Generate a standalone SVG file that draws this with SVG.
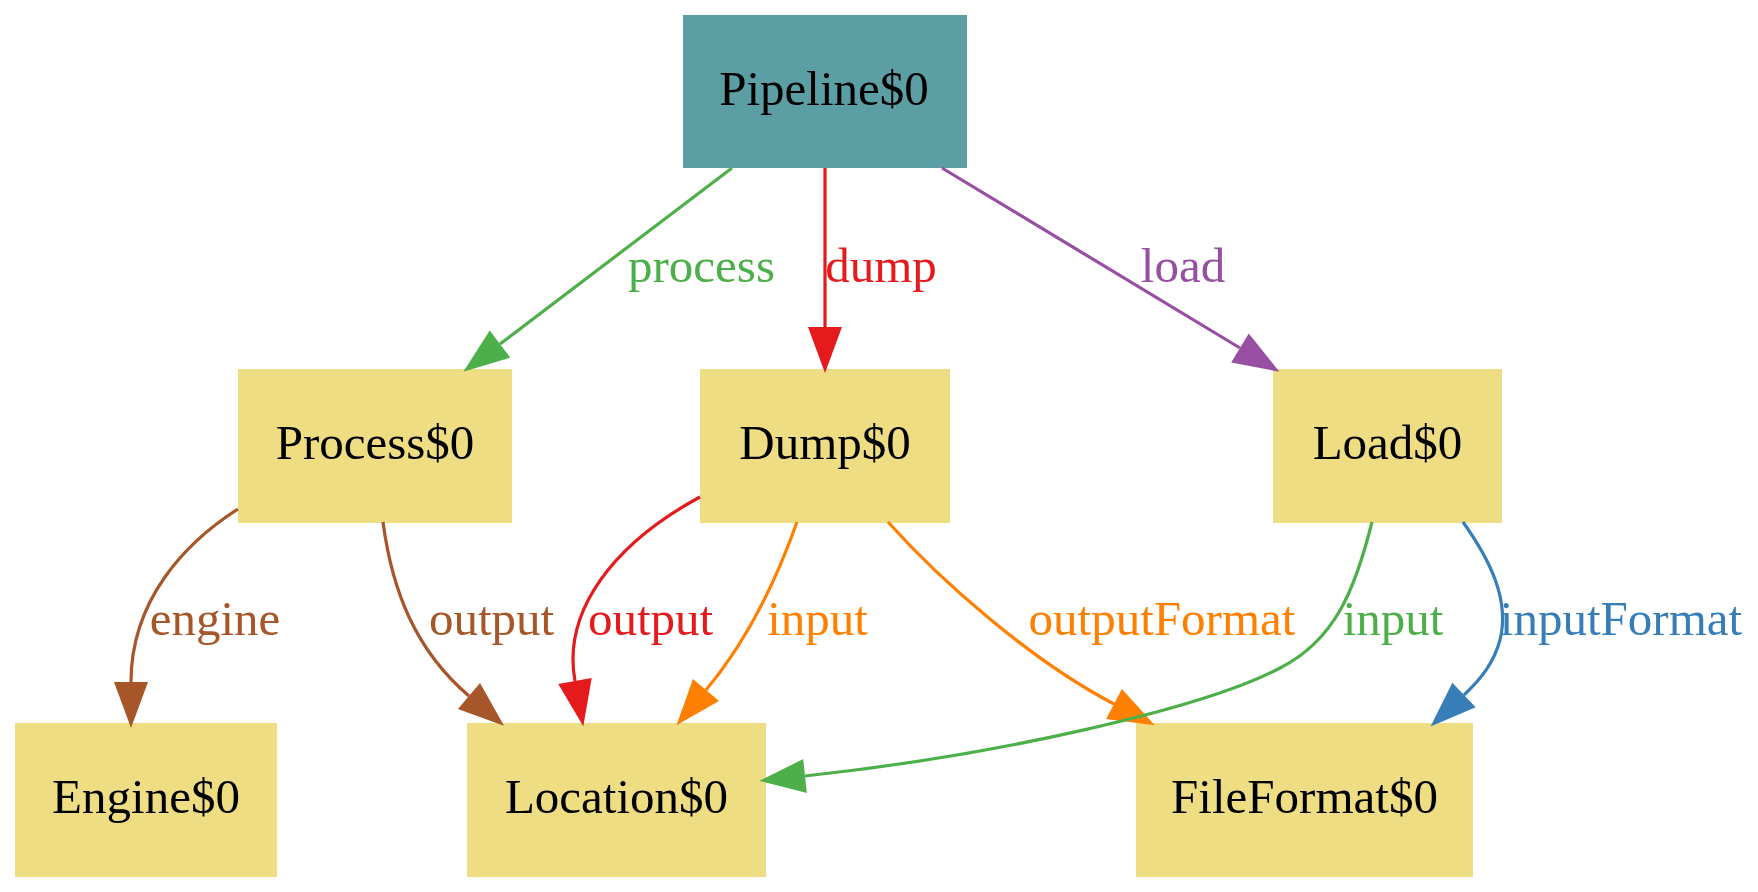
<svg xmlns="http://www.w3.org/2000/svg" width="1758" height="892" viewBox="0 0 1758 892">
  <style>
    text { font-family: "Liberation Serif", "Times New Roman", serif; font-size: 49px; text-anchor: middle; }
    .node rect { fill: #eedd82; stroke: none; }
    .node.root rect { fill: #5b9ea4; }
    .node text { fill: #000000; }
    .edge path { fill: none; stroke-width: 3.2; stroke-linecap: butt; }
    .green { stroke: #4daf4a; } .tgreen { fill: #4daf4a; }
    .red { stroke: #e41a1c; } .tred { fill: #e41a1c; }
    .purple { stroke: #984ea3; } .tpurple { fill: #984ea3; }
    .brown { stroke: #a65628; } .tbrown { fill: #a65628; }
    .orange { stroke: #ff7f00; } .torange { fill: #ff7f00; }
    .blue { stroke: #377eb8; } .tblue { fill: #377eb8; }
  </style>
  <defs>
    <marker id="a-green" markerUnits="userSpaceOnUse" markerWidth="46" markerHeight="34" refX="0" refY="17" orient="auto" overflow="visible"><path d="M0,0 L46,17 L0,34 Z" fill="#4daf4a"/></marker>
    <marker id="a-red" markerUnits="userSpaceOnUse" markerWidth="46" markerHeight="34" refX="0" refY="17" orient="auto" overflow="visible"><path d="M0,0 L46,17 L0,34 Z" fill="#e41a1c"/></marker>
    <marker id="a-purple" markerUnits="userSpaceOnUse" markerWidth="46" markerHeight="34" refX="0" refY="17" orient="auto" overflow="visible"><path d="M0,0 L46,17 L0,34 Z" fill="#984ea3"/></marker>
    <marker id="a-brown" markerUnits="userSpaceOnUse" markerWidth="46" markerHeight="34" refX="0" refY="17" orient="auto" overflow="visible"><path d="M0,0 L46,17 L0,34 Z" fill="#a65628"/></marker>
    <marker id="a-orange" markerUnits="userSpaceOnUse" markerWidth="46" markerHeight="34" refX="0" refY="17" orient="auto" overflow="visible"><path d="M0,0 L46,17 L0,34 Z" fill="#ff7f00"/></marker>
    <marker id="a-blue" markerUnits="userSpaceOnUse" markerWidth="46" markerHeight="34" refX="0" refY="17" orient="auto" overflow="visible"><path d="M0,0 L46,17 L0,34 Z" fill="#377eb8"/></marker>
  </defs>
  <rect x="0" y="0" width="1758" height="892" fill="#ffffff"/>

  <g id="nodes">
    <g id="node-pipeline" class="node root"><rect x="683" y="15" width="284" height="153"/><text x="824" y="105">Pipeline$0</text></g>
    <g id="node-process" class="node"><rect x="238" y="369" width="274" height="154"/><text x="375" y="459">Process$0</text></g>
    <g id="node-dump" class="node"><rect x="700" y="369" width="250" height="154"/><text x="825" y="459">Dump$0</text></g>
    <g id="node-load" class="node"><rect x="1273" y="369" width="229" height="154"/><text x="1387.5" y="459">Load$0</text></g>
    <g id="node-engine" class="node"><rect x="15" y="723" width="262" height="154"/><text x="146" y="813">Engine$0</text></g>
    <g id="node-location" class="node"><rect x="467" y="723" width="299" height="154"/><text x="616.5" y="813">Location$0</text></g>
    <g id="node-fileformat" class="node"><rect x="1136" y="723" width="337" height="154"/><text x="1304.5" y="813">FileFormat$0</text></g>
  </g>

  <g id="connectors">
    <g class="edge" id="e-process"><path class="green" d="M732,168 L500,344" marker-end="url(#a-green)"/><text class="tgreen" x="701.5" y="282">process</text></g>
    <g class="edge" id="e-dump"><path class="red" d="M825,168 L825,327" marker-end="url(#a-red)"/><text class="tred" x="881" y="282">dump</text></g>
    <g class="edge" id="e-load"><path class="purple" d="M942,168 L1240,348" marker-end="url(#a-purple)"/><text class="tpurple" x="1183" y="282">load</text></g>
    <g class="edge" id="e-engine"><path class="brown" d="M238,509 C185,543 131,600 131,682" marker-end="url(#a-brown)"/><text class="tbrown" x="215" y="635">engine</text></g>
    <g class="edge" id="e-process-output"><path class="brown" d="M383,522 C392,590 415,650 469,696" marker-end="url(#a-brown)"/><text class="tbrown" x="491.5" y="635">output</text></g>
    <g class="edge" id="e-dump-output"><path class="red" d="M700,497 C615,543 562,610 575,681" marker-end="url(#a-red)"/><text class="tred" x="650.5" y="635">output</text></g>
    <g class="edge" id="e-dump-input"><path class="orange" d="M797,522 C780,570 752,635 706,690" marker-end="url(#a-orange)"/><text class="torange" x="817.5" y="635">input</text></g>
    <g class="edge" id="e-dump-outputformat"><path class="orange" d="M888,522 C940,580 1030,660 1114,704" marker-end="url(#a-orange)"/><text class="torange" x="1162" y="635">outputFormat</text></g>
    <g class="edge" id="e-load-input"><path class="green" d="M1372,522 C1355,590 1335,640 1280,668 C1205,708 1000,755 805,776" marker-end="url(#a-green)"/><text class="tgreen" x="1393" y="635">input</text></g>
    <g class="edge" id="e-load-inputformat"><path class="blue" d="M1463,522 C1490,560 1510,600 1500,640 C1494,662 1482,678 1464,695" marker-end="url(#a-blue)"/><text class="tblue" x="1621" y="635">inputFormat</text></g>
  </g>
</svg>
